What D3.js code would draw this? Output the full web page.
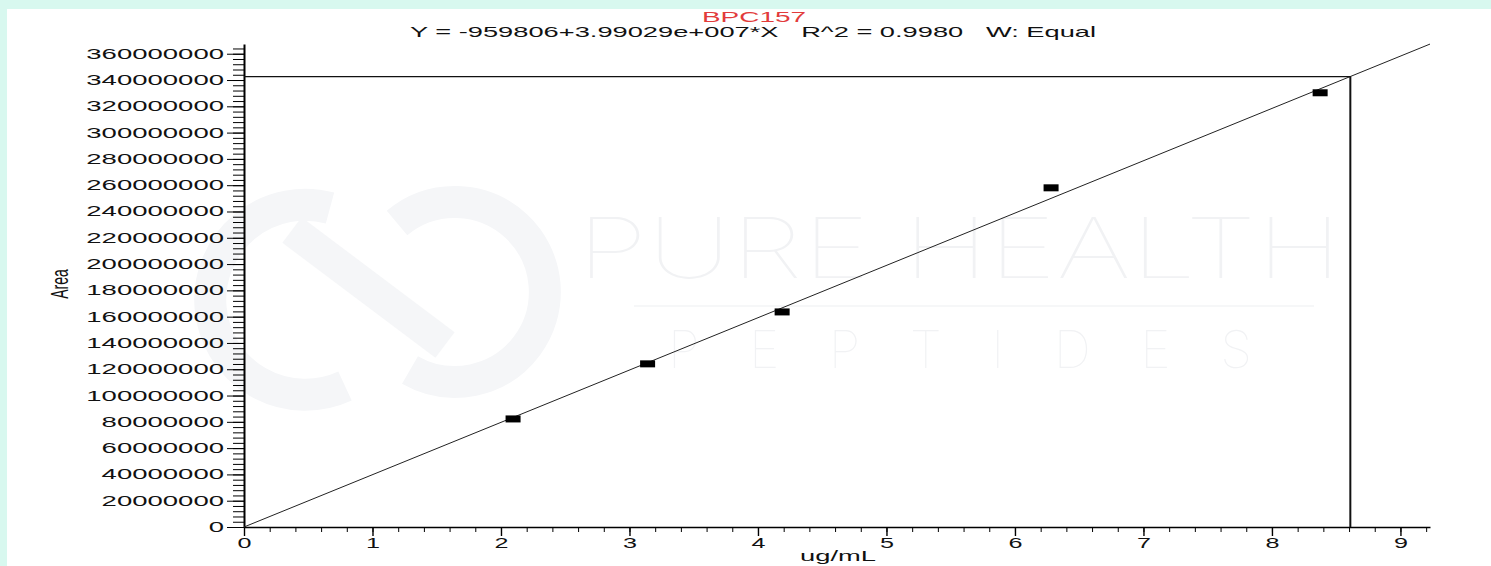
<!DOCTYPE html>
<html>
<head>
<meta charset="utf-8">
<script src="https://cdn.jsdelivr.net/npm/d3@7"></script>
<style>
  body { margin: 0; background: #d8f8ef; }
  svg text { font-family: "Liberation Sans", Arial, sans-serif; }
</style>
</head>
<body>
<svg id="chart" width="1491" height="566"></svg>
<script>
// calibration standards (ug/mL vs peak area)
const concentrations = [2.094, 3.141, 4.188, 6.281, 8.375];
const areas = [82.2e6, 124.1e6, 163.6e6, 258.0e6, 330.3e6];
const xTickValues = [0, 1, 2, 3, 4, 5, 6, 7, 8, 9];
const yTickValues = d3.range(0, 360000001, 20000000);
const fitIntercept = -959806;
const fitSlope = 3.99029e7;
const sampleX = 8.61;
const titleText = "BPC157";
const equationText = "Y = -959806+3.99029e+007*X   R^2 = 0.9980   W: Equal";

const svg = d3.select('#chart');

// white panel
svg.append("rect")
    .attr("x", 7).attr("y", 9)
    .attr("width", 1484).attr("height", 557)
    .attr("fill", "#ffffff");

const x = d3.scaleLinear().domain([0, 9.23]).range([244, 1430]);
const y = d3.scaleLinear().domain([0, 367.4e6]).range([527, 44]);

// faint watermark
const wm = svg.append("g").attr("fill", "none").attr("stroke", "#f5f6f8").attr("stroke-width", 32);
wm.append("path").attr("d", "M330,208 A95,95 0 1,0 345,386");
wm.append("path").attr("d", "M397,223 A90,90 0 1,1 410,370");
wm.append("path").attr("d", "M292,230 L445,345");
svg.append("text")
    .attr("x", 577).attr("y", 278)
    .attr("textLength", 765).attr("lengthAdjust", "spacingAndGlyphs")
    .attr("font-size", 84).attr("font-weight", 100)
    .style("font-family", "Inter, Lato, sans-serif")
    .attr("fill", "#f1f2f4")
    .text("PURE HEALTH");
svg.append("line")
    .attr("x1", 634).attr("x2", 1314).attr("y1", 306).attr("y2", 306)
    .attr("stroke", "#f3f4f6").attr("stroke-width", 1.5);
svg.append("text")
    .attr("x", 668).attr("y", 368)
    .attr("textLength", 584).attr("lengthAdjust", "spacing")
    .attr("font-size", 52).attr("font-weight", 100)
    .style("font-family", "Inter, Lato, sans-serif")
    .attr("fill", "#f1f2f4")
    .text("PEPTIDES");

// title + equation
svg.append("text")
    .attr("x", 754).attr("y", 22).attr("text-anchor", "middle")
    .attr("font-size", 15).attr("fill", "#e23b3b")
    .attr("textLength", 104).attr("lengthAdjust", "spacingAndGlyphs")
    .text(titleText);
svg.append("text")
    .attr("x", 753).attr("y", 37).attr("text-anchor", "middle")
    .attr("font-size", 15).attr("fill", "#111")
    .style("white-space", "pre")
    .attr("textLength", 686).attr("lengthAdjust", "spacingAndGlyphs")
    .text(equationText);

// x axis
svg.append("g")
    .attr("transform", "translate(0,527)")
    .call(d3.axisBottom(x).tickValues(d3.range(0, 9.21, 0.2)).tickSize(5).tickSizeOuter(0).tickFormat(""))
    .call(g => g.select(".domain").remove());
const xAxis = svg.append("g")
    .attr("transform", "translate(0,527)")
    .call(d3.axisBottom(x).tickValues(xTickValues).tickSize(9).tickSizeOuter(0).tickPadding(2).tickFormat(d3.format("d")));
xAxis.select(".domain").attr("stroke-width", 1.4);
xAxis.selectAll(".tick line").attr("stroke-width", 1.4);
xAxis.selectAll("text")
    .attr("font-size", 14).attr("fill", "#111")
    .attr("textLength", d => String(d).length * 14).attr("lengthAdjust", "spacingAndGlyphs");

// y axis
svg.append("g")
    .attr("transform", "translate(244,0)")
    .call(d3.axisLeft(y).tickValues(d3.range(0, 364000001, 4000000)).tickSize(11).tickSizeOuter(0).tickFormat(""))
    .call(g => g.select(".domain").remove());
const yAxis = svg.append("g")
    .attr("transform", "translate(244,0)")
    .call(d3.axisLeft(y).tickValues(yTickValues).tickSize(17).tickSizeOuter(0).tickPadding(3).tickFormat(d3.format("d")));
yAxis.select(".domain").attr("stroke-width", 2);
yAxis.selectAll("text")
    .attr("font-size", 14).attr("fill", "#111")
    .attr("textLength", d => String(d).length * 15.3).attr("lengthAdjust", "spacingAndGlyphs");

// axis titles
svg.append("text")
    .attr("x", 838).attr("y", 561).attr("text-anchor", "middle")
    .attr("font-size", 14).attr("fill", "#111")
    .attr("textLength", 76).attr("lengthAdjust", "spacingAndGlyphs")
    .text("ug/mL");
svg.append("text")
    .attr("transform", "translate(68,284) scale(1.7,1) rotate(-90)")
    .attr("text-anchor", "middle")
    .attr("font-size", 14).attr("fill", "#111")
    .text("Area");

// regression line
const xMax = x.domain()[1];
svg.append("line")
    .attr("x1", x(0)).attr("y1", y(Math.max(0, fitIntercept)))
    .attr("x2", x(xMax)).attr("y2", y(fitIntercept + fitSlope * xMax))
    .attr("stroke", "#222").attr("stroke-width", 1);

// sample crosshair
const sampleY = fitIntercept + fitSlope * sampleX;
svg.append("line")
    .attr("x1", x(0)).attr("x2", x(sampleX))
    .attr("y1", y(sampleY)).attr("y2", y(sampleY))
    .attr("stroke", "#111").attr("stroke-width", 1.2);
svg.append("line")
    .attr("x1", x(sampleX)).attr("x2", x(sampleX))
    .attr("y1", y(0)).attr("y2", y(sampleY))
    .attr("stroke", "#111").attr("stroke-width", 2);

// standards
svg.selectAll(".pt")
    .data(concentrations)
    .enter()
    .append("rect")
    .attr("class", "pt")
    .attr("x", d => x(d) - 7.5)
    .attr("y", (d, i) => y(areas[i]) - 3.5)
    .attr("width", 15)
    .attr("height", 7)
    .attr("fill", "#000");
</script>
</body>
</html>
